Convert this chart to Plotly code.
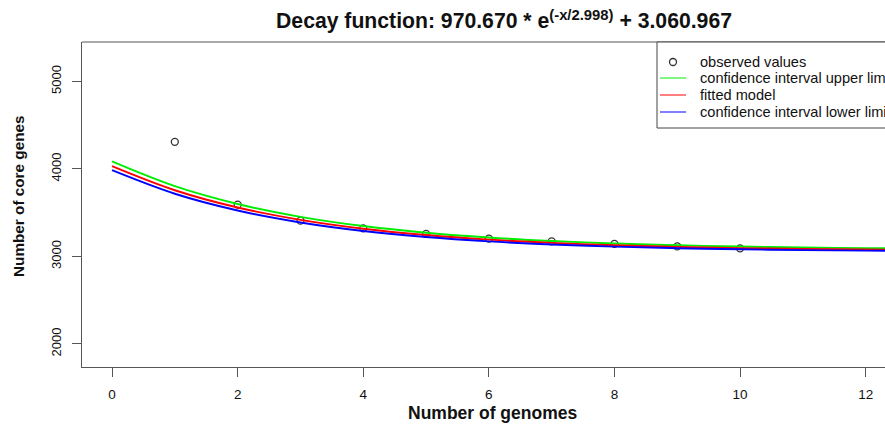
import plotly.graph_objects as go

# ---- data ----
obs_x = [1, 2, 3, 4, 5, 6, 7, 8, 9, 10]
obs_y = [4309, 3592, 3409, 3321, 3257, 3203, 3173, 3143, 3115, 3093]

curve_x = [0, 1, 2, 3, 4, 5, 6, 7, 8, 9, 10, 11, 12, 13]
upper_y = [4085, 3802.7, 3599.3, 3452.7, 3347.2, 3271.0, 3216.3, 3176.8, 3148.3, 3127.8, 3113.1, 3102.5, 3094.8, 3089.2]
fitted_y = [4031.6, 3756.5, 3559.3, 3418.0, 3316.8, 3244.2, 3192.3, 3155.0, 3128.4, 3109.3, 3095.5, 3085.7, 3078.7, 3073.7]
lower_y = [3985, 3716.1, 3524.6, 3388.1, 3290.9, 3221.7, 3172.3, 3137.1, 3112.1, 3094.2, 3081.5, 3072.4, 3066.0, 3061.4]

x_ticks = [0, 2, 4, 6, 8, 10, 12]
y_ticks = [2000, 3000, 4000, 5000]

legend_names = ["observed values", "confidence interval upper limit",
                "fitted model", "confidence interval lower limit"]

title_text = "<b>Decay function: 970.670 * e<sup>(-x/2.998)</sup> + 3.060.967</b>"
x_label = "<b>Number of genomes</b>"
y_label = "<b>Number of core genes</b>"

FONT = "Liberation Sans, Arial, Helvetica, sans-serif"
AXC = "#555555"
C_OBS = "#333333"
C_UP, C_FIT, C_LOW = "#00ee00", "#ff0000", "#0000ff"

# plot-area pixel geometry (for placing the hand-built legend)
L, T, W, H = 82, 42, 803, 325
def px_x(p):
    return (p - L) / W
def px_y(p):
    return 1 - (p - T) / H

fig = go.Figure()
fig.add_trace(go.Scatter(x=obs_x, y=obs_y, mode="markers", name=legend_names[0],
                         marker=dict(symbol="circle-open", size=7, color=C_OBS, line=dict(width=1.3))))
fig.add_trace(go.Scatter(x=curve_x, y=upper_y, mode="lines", name=legend_names[1],
                         line=dict(color=C_UP, width=1.9, shape="spline")))
fig.add_trace(go.Scatter(x=curve_x, y=fitted_y, mode="lines", name=legend_names[2],
                         line=dict(color=C_FIT, width=1.9, shape="spline")))
fig.add_trace(go.Scatter(x=curve_x, y=lower_y, mode="lines", name=legend_names[3],
                         line=dict(color=C_LOW, width=1.9, shape="spline")))

# legend (drawn by hand to match the R legend box, which runs off the right edge)
row_y = [62, 78, 95, 112]
shapes = [
    dict(type="line", xref="paper", yref="paper", x0=0, x1=1.05, y0=1, y1=1,
         line=dict(color=AXC, width=1)),
    dict(type="rect", xref="paper", yref="paper", x0=px_x(657), x1=1.05, y0=px_y(128), y1=1,
         line=dict(color="#444444", width=1), fillcolor="white", layer="above"),
    dict(type="circle", xref="paper", yref="paper", x0=px_x(669.5), x1=px_x(676.5),
         y0=px_y(row_y[0] + 3.5), y1=px_y(row_y[0] - 3.5), line=dict(color=C_OBS, width=1.3),
         layer="above"),
]
for ry, col in zip(row_y[1:], [C_UP, C_FIT, C_LOW]):
    shapes.append(dict(type="line", xref="paper", yref="paper", x0=px_x(660), x1=px_x(686),
                       y0=px_y(ry), y1=px_y(ry), line=dict(color=col, width=1), layer="above"))

annotations = [
    dict(text=x_label, xref="paper", yref="paper", x=px_x(492), y=px_y(413),
         xanchor="center", yanchor="middle", showarrow=False, font=dict(size=17.5, family=FONT)),
    dict(text=y_label, xref="paper", yref="paper", x=px_x(18), y=px_y(196),
         xanchor="center", yanchor="middle", textangle=-90, showarrow=False,
         font=dict(size=15.3, family=FONT)),
]
for ry, name in zip(row_y, legend_names):
    annotations.append(dict(text=name, xref="paper", yref="paper", x=px_x(698), y=px_y(ry),
                            xanchor="left", yanchor="middle", showarrow=False,
                            font=dict(size=14.6, family=FONT, color="#111111")))

fig.update_layout(
    width=885, height=434,
    margin=dict(l=L, r=0, t=T, b=434 - T - H),
    paper_bgcolor="white", plot_bgcolor="white",
    font=dict(family=FONT, color="#111111"),
    title=dict(text=title_text, x=504/885, xanchor="center", xref="container",
               y=1-21/434, yanchor="middle", yref="container",
               font=dict(size=21.2, family=FONT, color="#111111")),
    showlegend=False,
    xaxis=dict(range=[-0.478, 12.308], tickvals=x_ticks, ticks="outside", ticklen=9,
               tickcolor=AXC, showline=True, linecolor=AXC, linewidth=1, mirror=False,
               showgrid=False, zeroline=False, tickfont=dict(size=13.5, family=FONT),
               ticklabelstandoff=6),
    yaxis=dict(range=[1737, 5450], tickvals=y_ticks, ticks="outside", ticklen=9,
               tickcolor=AXC, showline=True, linecolor=AXC, linewidth=1, mirror=False,
               showgrid=False, zeroline=False, tickangle=-90, tickfont=dict(size=13, family=FONT),
               ticklabelstandoff=6),
    shapes=shapes,
    annotations=annotations,
)

fig.write_html("out.html")
